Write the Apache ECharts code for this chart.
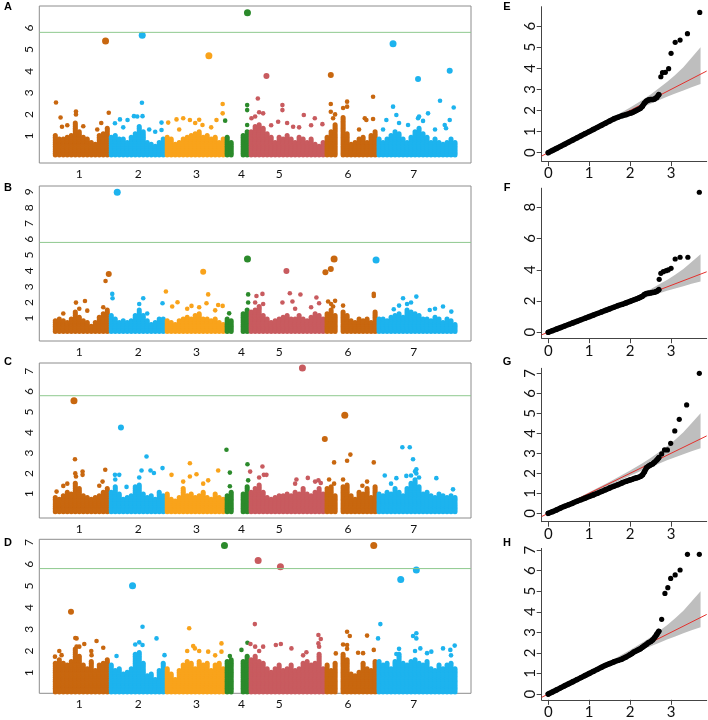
<!DOCTYPE html>
<html>
<head>
<meta charset="utf-8">
<script src="https://cdn.jsdelivr.net/npm/echarts@6/dist/echarts.min.js"></script>
<style>
html,body{margin:0;padding:0;background:#fff;}
#chart{width:708px;height:720px;}
</style>
</head>
<body>
<div id="chart"></div>
<script>
// chromosome layout along the Manhattan x axis (position units)
const chromLabels = ['1', '2', '3', '4', '5', '6', '7'];
const chromEnd = [70.5, 126, 184.5, 210, 285.5, 336.5, 418];
const chromCenter = [40, 99, 157.3, 202.3, 240, 309, 374.7];
const chromColor = ['#c8670f', '#1db3ee', '#f9a31b', '#2b8a2b', '#c85b5f', '#c8670f', '#1db3ee'];
const threshold = 5.8;

// packed cloud height per 4-unit bin, first bin at x=16
const binFirst = 16, binStep = 4;
const envA = [1.1,0.9,0.9,1.0,1.1,1.7,1.3,1.0,0.9,0.8,0.7,1.1,1.2,1.4,
  1.0,1.1,0.9,0.9,0.8,1.0,1.2,1.5,1.3,0.8,0.7,0.6,0.8,0.9,
  1.0,0.9,0.7,0.8,0.9,1.0,1.1,1.2,1.3,1.0,1.1,0.9,1.0,0.8,0.9,
  1.0,0.8,0,0,1.1,1.3,
  1.3,1.5,1.6,1.4,1.2,1.0,0.8,1.0,0.9,1.1,0.9,0.8,1.0,0.9,0.8,0.9,0.7,0.6,0.8,
  1.0,1.3,1.6,0,1.9,1.2,0.7,0.8,0.9,1.0,0.8,1.1,1.3,
  0.9,0.8,0.9,1.1,1.3,1.2,0.9,0.8,1.0,1.3,1.4,1.2,1.0,0.8,0.9,0.8,0.7,0.8,0.9,0.8];
const envB = [0.9,1.0,0.9,0.8,1.0,1.5,1.2,0.9,0.8,0.6,0.8,1.2,1.4,1.6,
  1.3,1.0,0.8,0.9,0.8,0.9,1.3,1.6,1.3,0.9,0.7,0.8,1.0,1.1,
  0.9,0.8,0.7,0.9,1.0,1.2,1.1,1.3,1.4,1.1,1.0,0.9,1.1,0.8,0.7,
  1.1,0.9,0,0,1.4,1.6,
  1.5,1.6,1.8,1.3,1.0,0.8,0.9,1.1,1.2,1.3,1.0,1.1,1.3,1.0,0.9,1.2,1.4,1.3,1.1,
  1.4,1.6,1.3,0,1.5,1.3,0.9,0.8,1.0,0.9,1.1,0.8,1.5,
  1.1,1.0,0.9,1.2,1.3,1.4,1.2,1.6,1.5,1.4,1.3,1.1,1.0,0.9,1.2,1.0,0.8,1.1,0.9,0.7];
const envC = [0.9,0.8,1.0,1.2,1.1,1.6,1.3,1.0,0.9,0.8,0.9,1.0,1.2,1.3,
  1.2,1.4,1.1,0.8,0.9,1.0,1.4,1.5,1.1,0.9,1.0,0.8,1.2,1.0,
  1.1,0.8,0.7,0.9,1.3,1.0,1.1,0.9,1.0,1.2,0.9,0.8,1.1,0.9,0.8,
  1.0,1.2,0,0,1.1,1.4,
  1.2,1.3,1.5,1.2,0.9,0.8,0.9,1.0,1.0,1.1,1.0,1.2,1.1,1.3,1.1,1.0,1.2,1.3,1.1,
  1.3,1.4,1.0,0,1.4,1.5,1.0,0.8,1.2,1.1,1.3,0.9,1.4,
  1.1,1.0,1.2,1.1,1.3,1.2,1.0,1.3,1.6,1.8,1.4,1.1,1.2,1.0,0.9,1.1,1.0,0.9,1.0,0.9];
const envD = [1.5,1.7,1.5,1.4,1.6,2.2,1.8,1.4,1.3,1.6,1.2,1.4,1.5,1.7,
  1.4,1.2,1.3,1.0,1.1,1.3,1.9,2.0,1.5,0.9,1.0,0.8,1.2,1.5,
  1.3,1.0,0.8,1.2,1.4,1.6,1.5,1.3,1.6,1.4,1.5,1.2,1.4,1.5,1.3,
  1.6,1.7,0,0,1.6,1.8,
  1.7,1.8,1.6,1.5,1.3,1.1,1.3,1.4,1.2,1.3,1.4,1.2,1.3,1.5,1.6,1.4,1.5,1.9,1.3,
  1.4,1.2,1.5,0,1.9,1.7,1.0,0.9,1.1,1.5,1.3,1.2,1.6,
  1.6,1.4,1.5,1.3,1.6,1.9,1.5,1.4,1.6,1.7,1.5,1.4,1.6,1.3,1.2,1.4,1.3,1.4,1.5,1.3];

// individual markers standing above the cloud: [position, -log10 p]
const hitsA = [[16.7,2.55],[21.3,1.86],[22.7,1.43],[36.7,2.13],[36.7,2.0],[66.3,5.4],[69.5,2.08],
  [75.7,1.59],[80.7,1.77],[88.3,1.74],[94.7,1.92],[102.7,2.54],[103,5.66],[103.3,1.92],[122.3,1.62],[122.3,1.28],
  [129,1.62],[137.3,1.77],[144,1.82],[150.7,1.74],[163.3,1.51],[169.7,4.72],[177.3,1.74],[183.5,2.48],[183.5,2.05],[186,1.71],
  [208.3,6.71],[208,2.43],[208,2.2],[208,1.51],
  [212.3,1.82],[218.7,2.74],[227.3,3.78],[224,2.05],[243.3,2.43],[243.3,2.2],[239,1.66],[264.7,1.97],[275.7,1.82],[283.3,1.55],[254,1.43],
  [291.7,3.82],[291.7,2.48],[291.7,2.12],[294,1.82],[308,2.59],[308,2.36],[325.7,1.82],[327.3,1.74],[334,2.82],[334,1.79],
  [354,5.27],[354,2.36],[357.3,1.97],[347.3,1.74],[369,1.51],[379,3.64],[379,1.82],[389,2.05],[401,2.63],[405.7,1.51],[410.7,4.02],[410.7,1.74],[414.7,2.32],[407,1.36],
  [28,1.5],[44,1.45],[58,1.3],[62,1.6],[84,1.4],[98,1.9],[110,1.3],[116,1.2],[140,1.3],[156,1.6],[160,1.75],[172,1.4],
  [216,1.9],[220,2.1],[232,1.5],[248,1.6],[260,1.4],[272,1.5],[296,2.0],[304,2.3],[320,1.3],
  [344,1.3],[360,1.6],[380,1.9],[384,1.7],[396,1.3]];
const hitsB = [[36.7,1.99],[45.7,2.09],[48,1.48],[66.3,3.36],[69.5,3.8],
  [73,2.54],[73.3,2.27],[78,8.97],[104,2.27],[123.3,1.95],
  [126.7,2.69],[133,1.74],[138.3,2.01],[152.3,1.78],[164,3.95],[169,2.51],[167.3,1.95],[179,1.84],[183.5,1.78],
  [190,1.31],[208.3,4.75],[209,2.51],[209,2.0],
  [217.3,2.41],[223.3,2.54],[247.3,3.99],[250.7,2.58],[261.3,2.5],[243.3,2.0],[253.3,2.06],[277.3,2.31],[280,1.95],
  [286.3,3.91],[291.7,4.12],[295,4.75],[289,2.06],[294,1.74],[334.7,2.54],[334.7,2.41],
  [337,4.69],[364,2.27],[377.3,2.37],[404,1.74],[412.3,1.42],[354.7,1.57],[390.7,1.52],
  [24,1.3],[40,1.6],[64,1.7],[100,1.9],[108,1.3],[148,1.6],[160,1.7],[176,1.5],[216,2.0],[224,1.9],
  [256,1.6],[272,1.7],[292,1.9],[296,2.1],[304,1.8],[360,1.8],[368,1.9],[372,2.0],[396,1.6]];
const hitsC = [[17.3,1.11],[24,1.39],[34.7,5.56],[35.7,2.69],[36.7,1.85],[43.3,2.09],[43.3,1.93],[66,2.18],[63.3,1.6],
  [75.7,1.93],[80,1.93],[81.7,4.25],[87.3,1.34],[102.3,2.14],[107.3,2.83],[111.3,2.14],[114.7,2.02],[123.3,2.26],
  [132.3,1.93],[150.7,2.5],[150.7,1.85],[157.3,1.96],[169,1.66],[179,2.14],
  [187.3,3.16],[190.7,2.04],[190.7,1.37],[208.3,2.45],[209,1.66],
  [211,2.09],[223.3,2.34],[224.7,1.93],[227.3,1.93],[263.3,7.16],[257.3,1.7],[268.7,1.78],[279.3,1.66],[281.7,1.53],
  [285.7,3.68],[295,2.54],[295,1.5],[305.7,4.84],[308,2.62],[311.3,2.92],[334.7,2.54],[323.3,1.4],
  [345.7,1.9],[357.3,1.77],[367.3,1.88],[363.3,3.28],[370.7,3.28],[374,2.69],[377.3,2.2],[377.3,2.0],[397.3,1.77],[414,1.22],
  [28,1.5],[36,2.0],[60,1.4],[76,1.7],[100,1.8],[144,1.6],[164,1.5],[220,1.8],[256,1.5],[276,1.6],
  [290,1.7],[304,1.7],[328,1.6],[352,1.5],[372,1.9],[376,2.1],[380,1.8]];
const hitsD = [[31.7,3.81],[37.3,2.58],[37.3,2.2],[45,2.32],[57.3,2.46],[64,2.15],[15.7,1.74],[22.3,1.81],[52.3,1.81],
  [93.3,5.01],[103.3,3.12],[103.3,2.28],[117.3,2.58],[125.3,1.81],[77.3,1.77],
  [150,3.05],[154,2.23],[155.7,2.12],[169,1.97],[182.3,2.35],[182.3,1.97],
  [185.3,6.86],[190.7,1.77],[202.3,2.05],[208.3,2.38],
  [211.3,2.32],[219,6.17],[215.7,3.24],[224,2.2],[236.7,2.28],[241.7,2.32],[241.3,5.89],[252.3,2.12],[267.3,1.94],[279.3,2.74],[281.7,2.55],[279.3,2.35],
  [296.7,1.89],[308,2.89],[310.7,2.69],[308,2.28],[328,2.71],[319,1.92],[334.7,6.86],[334.7,2.05],
  [341.3,3.24],[339,2.58],[361.7,5.3],[377.3,5.74],[377.3,2.82],[374,2.69],[377.3,2.58],[381.3,2.12],[392.3,1.97],[404,2.12],[415.7,2.25],[411.3,2.05],[357.3,1.86],
  [20,2.0],[36,2.6],[40,2.2],[52,2.0],[96,2.3],[100,2.4],[148,2.0],[160,2.0],[176,1.8],[216,2.2],
  [220,2.0],[264,1.8],[280,2.2],[304,2.3],[308,2.1],[324,1.9],[360,2.1],[376,2.0],[388,1.9],[412,1.8]];

const yTicksA = [1, 2, 3, 4, 5, 6];
const yTicksB = [1, 2, 3, 4, 5, 6, 7, 8, 9];
const yTicksC = [1, 2, 3, 4, 5, 6, 7];
const yTicksD = [1, 2, 3, 4, 5, 6, 7];

// QQ plots: expected -log10 p for the packed part, observed per panel
const qqExp = [0,0.1,0.2,0.3,0.4,0.5,0.6,0.7,0.8,0.9,1.0,1.1,1.2,1.3,1.4,1.5,1.6,1.7,1.8,1.9,2.0,
  2.05,2.1,2.15,2.2,2.25,2.3,2.35,2.4,2.45,2.5,2.55,2.6,2.65,2.7];
const obsE = [0,0.1,0.2,0.3,0.4,0.5,0.6,0.7,0.8,0.9,1.0,1.1,1.2,1.3,1.4,1.5,1.6,1.68,1.75,1.8,1.87,
  1.9,1.95,2.0,2.05,2.1,2.2,2.35,2.45,2.5,2.52,2.52,2.55,2.62,2.75];
const obsF = [0,0.1,0.2,0.3,0.4,0.5,0.6,0.7,0.8,0.9,1.0,1.1,1.2,1.3,1.4,1.5,1.6,1.7,1.78,1.88,1.98,
  2.03,2.08,2.13,2.18,2.24,2.3,2.42,2.48,2.5,2.52,2.55,2.57,2.62,2.72];
const obsG = [0,0.08,0.17,0.26,0.35,0.43,0.51,0.6,0.68,0.76,0.84,0.92,1.0,1.09,1.18,1.27,1.35,1.43,1.52,1.6,1.67,
  1.7,1.74,1.77,1.8,1.84,1.92,2.08,2.28,2.36,2.42,2.47,2.56,2.66,2.78];
const obsH = [0,0.1,0.2,0.3,0.4,0.5,0.6,0.7,0.8,0.9,1.0,1.1,1.2,1.3,1.4,1.48,1.56,1.63,1.7,1.8,1.92,
  1.98,2.05,2.1,2.15,2.2,2.28,2.35,2.42,2.5,2.55,2.63,2.75,2.9,3.05];
const tailE = [[2.75,3.6],[2.79,3.79],[2.86,3.81],[2.94,3.98],[3.0,4.71],[3.1,5.23],[3.22,5.34],[3.4,5.64],[3.7,6.65]];
const tailF = [[2.71,3.39],[2.75,3.77],[2.81,3.88],[2.88,3.94],[2.93,3.99],[3.0,4.09],[3.1,4.69],[3.22,4.8],[3.41,4.8],[3.69,8.96]];
const tailG = [[2.77,2.97],[2.84,3.17],[2.91,3.17],[2.99,3.5],[3.09,4.12],[3.2,4.7],[3.38,5.42],[3.69,7.0]];
const tailH = [[2.77,3.63],[2.85,4.89],[2.92,5.17],[2.99,5.62],[3.1,5.79],[3.22,6.03],[3.4,6.79],[3.69,6.79]];

// confidence band under the null
const bandExp  = [0, 0.5, 1.0, 1.5, 2.0, 2.3, 2.5, 2.7, 2.9, 3.1, 3.3, 3.5, 3.72];
const bandLow  = [0, 0.48, 0.95, 1.42, 1.88, 2.15, 2.32, 2.48, 2.65, 2.8, 2.95, 3.1, 3.25];
const bandHigh = [0, 0.53, 1.05, 1.58, 2.14, 2.5, 2.76, 3.05, 3.35, 3.68, 4.05, 4.5, 5.0];
const qqXTicks = [0, 1, 2, 3];

const FONT = 'Lato, "Open Sans", sans-serif';

function chromOf(x) {
  for (let i = 0; i < chromEnd.length; i++) if (x < chromEnd[i]) return i;
  return chromEnd.length - 1;
}
function colorOf(x) { return chromColor[chromOf(x)]; }

const grids = [], xAxes = [], yAxes = [], series = [];

function manhattan(top, height, ymin, ymax, yTicks, env, hits) {
  const g = grids.length;
  grids.push({left: 39.3, top: top, width: 431.7, height: height, show: true,
    borderColor: '#8c8c8c', borderWidth: 1, outerBoundsMode: 'none', containLabel: false});
  xAxes.push({gridIndex: g, type: 'value', min: 0, max: 432,
    axisLine: {show: false}, axisTick: {show: false}, splitLine: {show: false},
    axisLabel: {customValues: chromCenter, margin: 5, fontSize: 12, color: '#111', fontFamily: FONT,
      formatter: v => {
        let k = 0;
        chromCenter.forEach((c, i) => { if (Math.abs(c - v) < Math.abs(chromCenter[k] - v)) k = i; });
        return chromLabels[k];
      }}});
  yAxes.push({gridIndex: g, type: 'value', min: ymin, max: ymax,
    axisLine: {show: false}, axisTick: {show: false}, splitLine: {show: false},
    axisLabel: {customValues: yTicks, rotate: 90, margin: 4, fontSize: 12, color: '#111', fontFamily: FONT}});
  const bins = env.map((h, i) => [binFirst + binStep * i, h]).filter(d => d[1] > 0);
  // each bin is a column of overlapping dots up to the cloud height
  chromLabels.forEach((lab, k) => {
    series.push({type: 'pictorialBar', xAxisIndex: g, yAxisIndex: g, barWidth: 4, barGap: '-100%',
      symbol: 'circle', symbolSize: [5, 5], symbolRepeat: true, symbolMargin: -1.6,
      symbolPosition: 'start',
      data: bins.filter(d => chromOf(d[0]) === k),
      itemStyle: {color: chromColor[k]}, silent: true});
  });
  series.push({type: 'line', xAxisIndex: g, yAxisIndex: g, data: [[0, threshold], [432, threshold]],
    symbol: 'none', lineStyle: {color: '#8ec98e', width: 1}, silent: true});
  series.push({type: 'scatter', xAxisIndex: g, yAxisIndex: g, data: hits,
    symbolSize: v => v[1] >= 4.5 ? 7 : (v[1] >= 3.5 ? 6 : 4.6),
    itemStyle: {color: p => colorOf(p.value[0]), opacity: 1}, silent: true});
}

function qq(top, height, ymin, ymax, yTicks, obs, tail) {
  const g = grids.length;
  grids.push({left: 541.7, top: top, width: 165, height: height, show: false,
    outerBoundsMode: 'none', containLabel: false});
  xAxes.push({gridIndex: g, type: 'value', min: -0.16, max: 3.87,
    axisLine: {show: true, onZero: false, lineStyle: {color: '#444', width: 1}},
    axisTick: {show: true, customValues: qqXTicks, length: 5, lineStyle: {color: '#444'}},
    splitLine: {show: false},
    axisLabel: {customValues: qqXTicks, margin: 5, fontSize: 15, color: '#111', fontFamily: FONT}});
  yAxes.push({gridIndex: g, type: 'value', min: ymin, max: ymax,
    axisLine: {show: true, onZero: false, lineStyle: {color: '#444', width: 1}},
    axisTick: {show: true, customValues: yTicks, length: 5, lineStyle: {color: '#444'}},
    splitLine: {show: false},
    axisLabel: {customValues: yTicks, rotate: 90, margin: 4, fontSize: 15, color: '#111', fontFamily: FONT}});
  series.push({type: 'custom', xAxisIndex: g, yAxisIndex: g, silent: true,
    data: bandExp.map((e, i) => [e, bandLow[i], bandHigh[i]]),
    encode: {x: 0, y: [1, 2]},
    renderItem: (params, api) => {
      if (params.dataIndex !== 0) return null;
      const pts = [];
      for (let i = 0; i < bandExp.length; i++) pts.push(api.coord([bandExp[i], bandHigh[i]]));
      for (let i = bandExp.length - 1; i >= 0; i--) pts.push(api.coord([bandExp[i], bandLow[i]]));
      return {type: 'polygon', shape: {points: pts}, style: {fill: '#bebebe'}};
    }});
  series.push({type: 'line', xAxisIndex: g, yAxisIndex: g, data: [[-0.16, -0.16], [3.87, 3.87]],
    symbol: 'none', lineStyle: {color: '#e3302c', width: 1}, silent: true});
  const dense = qqExp.map((e, i) => [e, obs[i]]);
  series.push({type: 'line', xAxisIndex: g, yAxisIndex: g, data: dense,
    symbol: 'none', lineStyle: {color: '#000', width: 5.5, cap: 'round', join: 'round'}, silent: true});
  series.push({type: 'scatter', xAxisIndex: g, yAxisIndex: g,
    data: dense.concat(tail),
    symbolSize: 5.2, itemStyle: {color: '#000', opacity: 1}, silent: true});
}

manhattan(6, 157, -0.25, 7.02, yTicksA, envA, hitsA);
manhattan(186, 155, -0.44, 9.37, yTicksB, envB, hitsB);
manhattan(363, 155, -0.18, 7.4, yTicksC, envC, hitsC);
manhattan(539.3, 154, 0.05, 7.15, yTicksD, envD, hitsD);
qq(6.7, 154.4, -0.4, 6.92, [0, 1, 2, 3, 4, 5, 6], obsE, tailE);
qq(188.2, 150, -0.38, 9.22, [0, 2, 4, 6, 8], obsF, tailF);
qq(368.3, 153.4, -0.42, 7.25, [0, 1, 2, 3, 4, 5, 6, 7], obsG, tailG);
qq(548.4, 151.4, -0.28, 7.08, [0, 1, 2, 3, 4, 5, 6, 7], obsH, tailH);

const panelLetters = [['A', 8, 7], ['B', 8, 188], ['C', 8, 362], ['D', 8, 543],
  ['E', 507, 7], ['F', 507, 188], ['G', 507, 362], ['H', 507, 543]];

const chart = echarts.init(document.getElementById('chart'));
chart.setOption({
  animation: false,
  backgroundColor: '#fff',
  grid: grids,
  xAxis: xAxes,
  yAxis: yAxes,
  series: series,
  graphic: panelLetters.map(p => ({
    type: 'text', x: p[1], y: p[2],
    style: {text: p[0], font: 'bold 11px "Liberation Sans", Arial, sans-serif', fill: '#000',
      align: 'center', verticalAlign: 'middle'}
  }))
});
</script>
</body>
</html>
